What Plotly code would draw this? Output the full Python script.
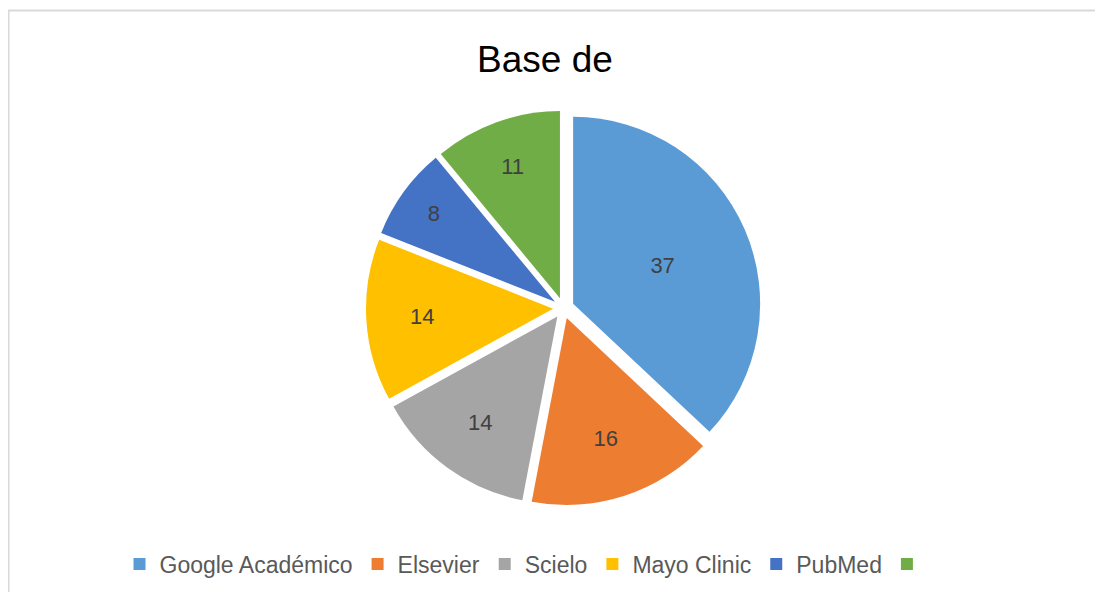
import plotly.graph_objects as go

categories = ["Google Académico", "Elsevier", "Scielo", "Mayo Clinic", "PubMed", " "]
values = [37, 16, 14, 14, 8, 11]
colors = ["#5B9BD5", "#ED7D31", "#A5A5A5", "#FFC000", "#4472C4", "#70AD47"]
title_text = "Base de"

W, H = 1103, 592
OFF = 8  # page body margin offset
cx, cy = 563.5 - OFF, 308.0 - OFF
half = 197.5

fig = go.Figure(go.Pie(
    labels=categories,
    values=values,
    marker=dict(colors=colors, line=dict(width=0)),
    sort=False,
    direction="clockwise",
    rotation=0,
    pull=[0.056] * len(values),
    textinfo="value",
    textposition="inside",
    insidetextorientation="horizontal",
    textfont=dict(family="Arial, Liberation Sans", size=22, color="#404040"),
    domain=dict(x=[(cx - half) / W, (cx + half) / W],
                y=[1 - (cy + half) / H, 1 - (cy - half) / H]),
    hoverinfo="label+value",
))

fig.update_layout(
    width=W, height=H,
    margin=dict(l=0, r=0, t=0, b=0),
    paper_bgcolor="white",
    plot_bgcolor="white",
    font=dict(family="Arial, Liberation Sans"),
    title=dict(text=title_text, x=(545 - OFF) / W, xanchor="center", y=1 - (59 - OFF) / H, yanchor="middle",
               font=dict(family="Arial, Liberation Sans", size=37, color="#000000")),
    showlegend=True,
    legend=dict(orientation="h", x=(529 - OFF) / W, xanchor="center", y=1 - (564 - OFF) / H, yanchor="middle",
                font=dict(family="Arial, Liberation Sans", size=23, color="#595959"),
                itemwidth=30, traceorder="normal", bgcolor="rgba(0,0,0,0)"),
    shapes=[dict(type="rect", xref="paper", yref="paper",
                 x0=(8.5 - OFF) / W, x1=1.05, y0=-0.05, y1=1 - (10.5 - OFF) / H,
                 line=dict(color="#D9D9D9", width=2), fillcolor="rgba(0,0,0,0)", layer="below")],
)

fig.write_html("out.html")
